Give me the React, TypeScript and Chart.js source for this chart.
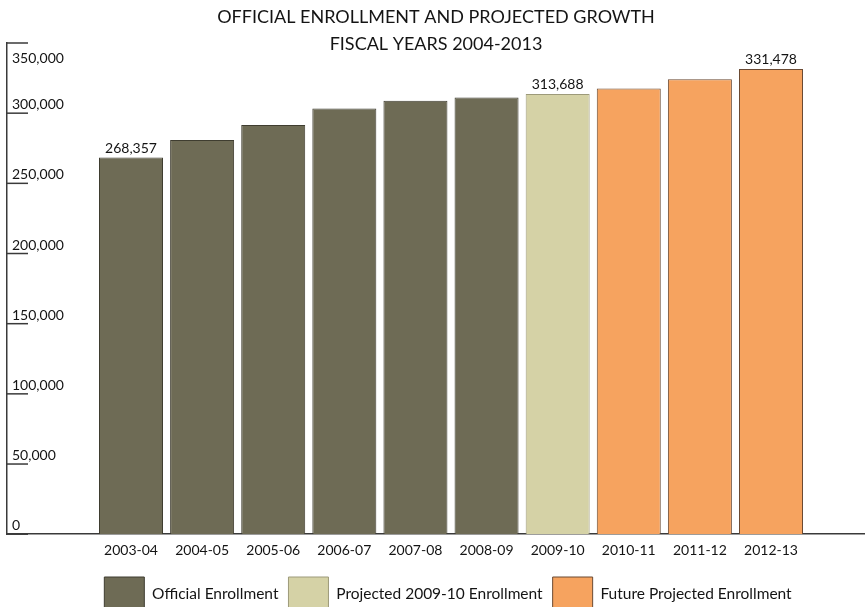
import React, { useEffect, useRef } from "react";
import { Chart, registerables } from "chart.js";

Chart.register(...registerables);

// ---- data ----
const categories = ["2003-04", "2004-05", "2005-06", "2006-07", "2007-08", "2008-09", "2009-10", "2010-11", "2011-12", "2012-13"];
const officialEnrollment = [268357, 280800, 291500, 303400, 308900, 311200]; // 2003-04 .. 2008-09
const projected200910 = [313688]; // 2009-10
const futureProjected = [317500, 324100, 331478]; // 2010-11 .. 2012-13
const labelledCategories = ["2003-04", "2009-10", "2012-13"];
const seriesNames = ["Official Enrollment", "Projected 2009-10 Enrollment", "Future Projected Enrollment"];
const titleLines = ["OFFICIAL ENROLLMENT AND PROJECTED GROWTH", "FISCAL YEARS 2004-2013"];
const yMax = 350000;
const yStep = 50000;

const FONT = "Lato, 'Open Sans', sans-serif";
const TEXT = "#141414";
const AXIS = "#3a3a3a";

export default function App() {
  const ref = useRef<HTMLCanvasElement | null>(null);

  useEffect(() => {
    if (!ref.current) return;
    const offset = officialEnrollment.length;
    const toPoints = (vals: number[], start: number) => vals.map((v, i) => ({ x: start + i, y: v }));

    const yAxisInside = {
      id: "yAxisInside",
      afterDraw(chart: any) {
        const { ctx, chartArea, scales } = chart;
        const y = scales.y;
        ctx.save();
        ctx.strokeStyle = AXIS;
        ctx.lineWidth = 1.5;
        ctx.fillStyle = TEXT;
        ctx.font = `14px ${FONT}`;
        ctx.textAlign = "left";
        ctx.textBaseline = "alphabetic";
        y.ticks.forEach((t: any) => {
          const py = y.getPixelForValue(t.value);
          ctx.beginPath();
          ctx.moveTo(chartArea.left, py);
          ctx.lineTo(chartArea.left + 21, py);
          ctx.stroke();
          const label = t.value.toLocaleString("en-US");
          const by = t.value >= yMax ? py + 20 : py - 4;
          ctx.fillText(label, chartArea.left + 5, by);
        });
        ctx.restore();
      },
    };

    const valueLabels = {
      id: "valueLabels",
      afterDatasetsDraw(chart: any) {
        const { ctx } = chart;
        ctx.save();
        ctx.fillStyle = TEXT;
        ctx.font = `14px ${FONT}`;
        ctx.textAlign = "center";
        ctx.textBaseline = "alphabetic";
        chart.data.datasets.forEach((ds: any, di: number) => {
          const meta = chart.getDatasetMeta(di);
          meta.data.forEach((el: any, i: number) => {
            const p = ds.data[i];
            if (labelledCategories.includes(categories[p.x])) {
              ctx.fillText(p.y.toLocaleString("en-US"), el.x, el.y - 5);
            }
          });
        });
        ctx.restore();
      },
    };

    // nudge the legend row so it is centred like the original
    const legendShift = {
      id: "legendShift",
      afterLayout(chart: any) {
        const lg = chart.legend;
        if (lg) {
          lg.left += 12;
          lg.right += 12;
        }
      },
    };

    const chart = new Chart(ref.current, {
      type: "bar",
      data: {
        datasets: [
          {
            label: seriesNames[0],
            data: toPoints(officialEnrollment, 0),
            backgroundColor: "#6e6b55",
            borderColor: "#3f3d30",
            borderWidth: 1,
            grouped: false,
          },
          {
            label: seriesNames[1],
            data: toPoints(projected200910, offset),
            backgroundColor: "#d5d2a6",
            borderColor: "#9d9a7a",
            borderWidth: 1,
            grouped: false,
          },
          {
            label: seriesNames[2],
            data: toPoints(futureProjected, offset + projected200910.length),
            backgroundColor: "#f6a35f",
            borderColor: "#6b4a33",
            borderWidth: 1,
            grouped: false,
          },
        ] as any,
      },
      options: {
        animation: false,
        responsive: false,
        devicePixelRatio: 1,
        barPercentage: 0.9,
        categoryPercentage: 1,
        layout: { padding: { left: 7, right: 0, top: 0, bottom: 0 } },
        plugins: {
          title: {
            display: true,
            text: titleLines,
            color: TEXT,
            font: { family: FONT, size: 18, weight: "normal", lineHeight: 1.5 },
            padding: { top: 3.5, bottom: -14.5 },
          },
          legend: {
            position: "bottom",
            labels: {
              boxWidth: 40,
              boxHeight: 34,
              padding: 10,
              color: TEXT,
              font: { family: FONT, size: 15.5 },
            },
          },
          tooltip: { enabled: false },
        },
        scales: {
          x: {
            type: "linear",
            min: -1.7437,
            max: 10.3219,
            offset: false,
            grid: { display: false, drawTicks: false, offset: false },
            border: { display: true, color: AXIS, width: 1.5 },
            afterBuildTicks: (scale: any) => {
              scale.ticks = categories.map((_, i) => ({ value: i }));
            },
            ticks: {
              autoSkip: false,
              maxRotation: 0,
              padding: 8,
              color: TEXT,
              font: { family: FONT, size: 14 },
              callback: (v: any) => categories[v] ?? "",
            },
          },
          y: {
            min: 0,
            max: yMax,
            grid: { display: false, drawTicks: false },
            border: { display: true, color: AXIS, width: 1.5 },
            ticks: { display: false, stepSize: yStep },
          },
        },
      } as any,
      plugins: [yAxisInside, valueLabels, legendShift],
    });
    return () => chart.destroy();
  }, []);

  return (
    <div style={{ position: "fixed", left: 0, top: 0, width: 865, height: 607, overflow: "hidden", background: "#fff" }}>
      <canvas ref={ref} width={865} height={621} style={{ display: "block", width: 865, height: 621 }} />
    </div>
  );
}
